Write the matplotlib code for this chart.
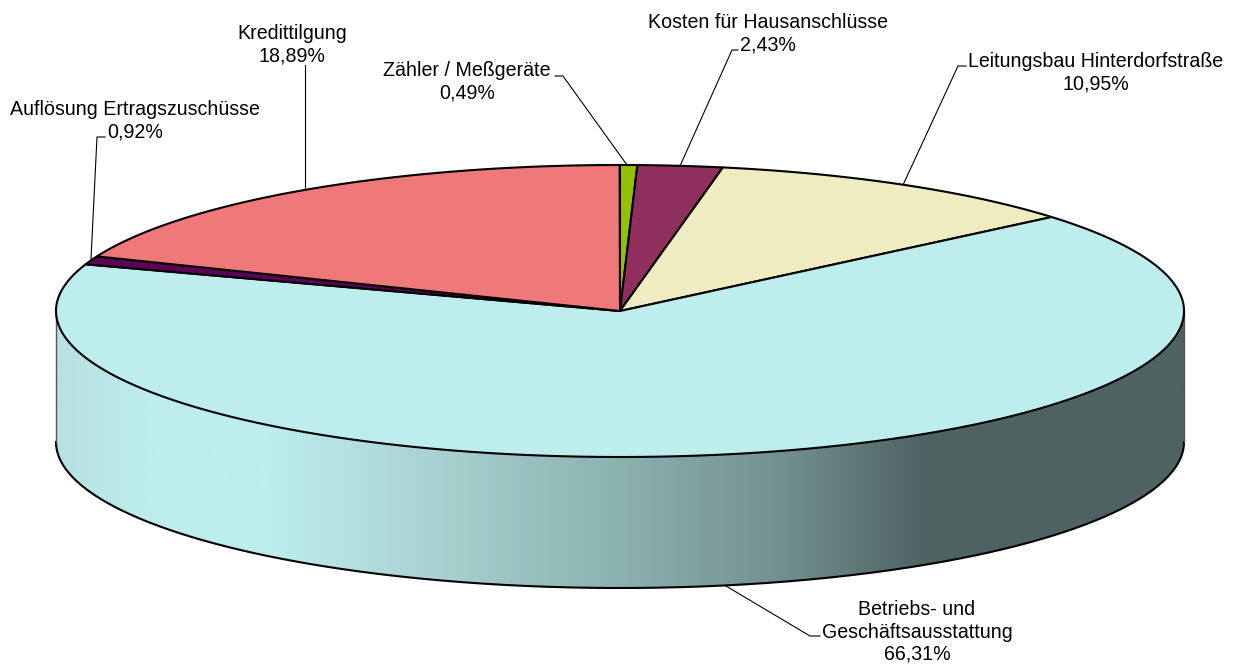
import numpy as np
import matplotlib
matplotlib.use('Agg')
import matplotlib.pyplot as plt
from matplotlib.colors import LinearSegmentedColormap
from matplotlib.patches import Polygon

plt.rcParams['font.family'] = ['Liberation Sans', 'DejaVu Sans']

# clockwise from the top
labels = ['Zähler / Meßgeräte', 'Kosten für Hausanschlüsse', 'Leitungsbau Hinterdorfstraße',
          'Betriebs- und\nGeschäftsausstattung', 'Auflösung Ertragszuschüsse', 'Kredittilgung']
values = [0.49, 2.43, 10.95, 66.31, 0.92, 18.89]
colors = ['#93c000', '#8e2f5e', '#eeecc0', '#bdeded', '#5c0058', '#ef7878']

# pie geometry in pixels
cx, cy = 620, 311
rx, ry = 564, 146
depth = 131

# text centre, then leader line
label_pos = [(467, 82), (768, 34), (1096, 73), (917, 632), (135, 121), (292, 45)]
leaders = [[(627, 165), (563, 76), (555, 76)],
           [(680, 166), (732, 50), (738, 50)],
           [(903, 185), (958, 66), (966, 66)],
           [(726, 586), (810, 636), (820, 636)],
           [(91, 259), (97, 137), (105, 137)],
           [(305, 188), (305, 65)]]


def ellipse_xy(deg):
    t = np.radians(deg)
    return cx + rx * np.sin(t), cy - ry * np.cos(t)


fig = plt.figure(figsize=(12.37, 6.66), dpi=100)
ax = fig.add_axes([0, 0, 1, 1])
ax.set_xlim(0, 1237)
ax.set_ylim(666, 0)
ax.axis('off')

# wall of the cylinder with the horizontal shading
shade = LinearSegmentedColormap.from_list('wall', [
    (0.0, '#b8e0e0'), (0.08, '#bdeded'), (0.19, '#bdeded'), (0.32, '#abd5d4'),
    (0.512, '#8aaeae'), (0.64, '#749191'), (0.77, '#4f6363'), (1.0, '#4f6363')])
t = np.linspace(90, 270, 400)
x, y = ellipse_xy(t)
wall_xy = np.vstack([np.column_stack([x, y]), np.column_stack([x[::-1], y[::-1] + depth])])
wall = Polygon(wall_xy, closed=True, fc='none', ec='none')
ax.add_patch(wall)
im = ax.imshow(np.linspace(0, 1, 512)[None, :], cmap=shade, aspect='auto',
               extent=[cx - rx, cx + rx, 666, 0], zorder=1)
im.set_clip_path(wall)
ax.set_xlim(0, 1237)
ax.set_ylim(666, 0)

# outline of the wall
ax.plot(x, y + depth, color='black', lw=1.5, zorder=2)
ax.plot([cx - rx, cx - rx], [cy, cy + depth], color='#555555', lw=1, zorder=2)
ax.plot([cx + rx, cx + rx], [cy, cy + depth], color='#555555', lw=1, zorder=2)

# top face slices
start = 0
for val, col in zip(values, colors):
    end = start + val * 3.6
    t = np.linspace(start, end, max(int(val * 8), 8))
    x, y = ellipse_xy(t)
    pts = np.vstack([[cx, cy], np.column_stack([x, y])])
    ax.add_patch(Polygon(pts, closed=True, fc=col, ec='black', lw=1.5, joinstyle='round', zorder=3))
    start = end

# labels and leader lines
for lab, val, pos, line in zip(labels, values, label_pos, leaders):
    txt = lab + '\n' + f'{val:.2f}%'.replace('.', ',')
    ax.text(pos[0], pos[1], txt, ha='center', va='center', fontsize=14.1, color='black',
            linespacing=1.22, zorder=5)
    xs, ys = zip(*line)
    ax.plot(xs, ys, color='black', lw=0.8, zorder=4)

fig.savefig('out.png', dpi=100)
